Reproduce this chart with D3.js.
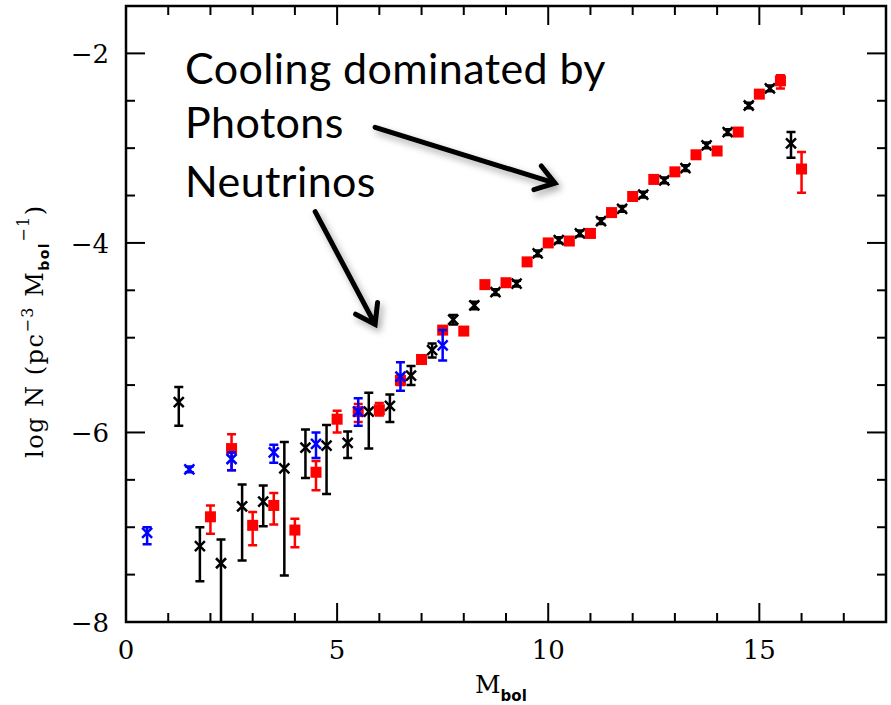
<!DOCTYPE html>
<html>
<head>
<meta charset="utf-8">
<script src="https://cdn.jsdelivr.net/npm/d3@7"></script>
<style>
  body { margin: 0; background: #fff; }
  svg { display: block; }
</style>
</head>
<body>
<script>
"use strict";

// black crosses
const blackM = [1.25, 1.75, 2.25, 2.75, 3.25, 3.75, 4.25, 4.75, 5.25, 5.75, 6.25, 6.75, 7.25, 7.75, 8.25, 8.75, 9.25, 9.75, 10.25, 10.75, 11.25, 11.75, 12.25, 12.75, 13.25, 13.75, 14.25, 14.75, 15.25, 15.75]
const blackLogN = [-5.68, -7.20, -7.38, -6.78, -6.73, -6.38, -6.16, -6.14, -6.11, -5.78, -5.72, -5.40, -5.13, -4.81, -4.66, -4.52, -4.43, -4.11, -3.97, -3.90, -3.77, -3.64, -3.49, -3.34, -3.21, -2.97, -2.83, -2.55, -2.37, -2.95]
const blackErrUp = [0.16, 0.20, 0.25, 0.23, 0.17, 0.28, 0.19, 0.22, 0.12, 0.20, 0.12, 0.10, 0.07, 0.05, 0.04, 0.03, 0.03, 0.03, 0.03, 0.03, 0.03, 0.03, 0.03, 0.03, 0.03, 0.03, 0.03, 0.03, 0.03, 0.12]
const blackErrDown = [0.25, 0.37, 0.80, 0.57, 0.26, 1.13, 0.32, 0.51, 0.16, 0.39, 0.17, 0.10, 0.08, 0.05, 0.04, 0.03, 0.03, 0.03, 0.03, 0.03, 0.03, 0.03, 0.03, 0.03, 0.03, 0.03, 0.03, 0.03, 0.03, 0.15]

// red squares
const redM = [2.0, 2.5, 3.0, 3.5, 4.0, 4.5, 5.0, 5.5, 6.0, 6.5, 7.0, 7.5, 8.0, 8.5, 9.0, 9.5, 10.0, 10.5, 11.0, 11.5, 12.0, 12.5, 13.0, 13.5, 14.0, 14.5, 15.0, 15.5, 16.0]
const redLogN = [-6.89, -6.17, -6.98, -6.77, -7.03, -6.42, -5.86, -5.78, -5.76, -5.45, -5.23, -4.92, -4.93, -4.44, -4.42, -4.20, -4.00, -3.98, -3.90, -3.68, -3.51, -3.33, -3.25, -3.07, -3.03, -2.83, -2.43, -2.29, -3.22]
const redErrUp = [0.12, 0.15, 0.14, 0.13, 0.12, 0.12, 0.09, 0.08, 0.07, 0.05, 0.03, 0.03, 0.03, 0.03, 0.03, 0.03, 0.03, 0.03, 0.03, 0.03, 0.03, 0.03, 0.03, 0.03, 0.03, 0.03, 0.03, 0.06, 0.18]
const redErrDown = [0.18, 0.23, 0.21, 0.20, 0.18, 0.19, 0.14, 0.11, 0.06, 0.05, 0.03, 0.03, 0.03, 0.03, 0.03, 0.03, 0.03, 0.03, 0.03, 0.03, 0.03, 0.03, 0.03, 0.03, 0.03, 0.03, 0.03, 0.08, 0.25]

// blue crosses
const blueM = [0.5, 1.5, 2.5, 3.5, 4.5, 5.5, 6.5, 7.5]
const blueLogN = [-7.06, -6.39, -6.28, -6.21, -6.12, -5.78, -5.41, -5.08]
const blueErrUp = [0.06, 0.03, 0.07, 0.08, 0.12, 0.14, 0.15, 0.16]
const blueErrDown = [0.12, 0.03, 0.12, 0.11, 0.15, 0.15, 0.15, 0.16]

// axis ticks
const xMajorTicks = [0, 5, 10, 15]
const yMajorTicks = [-8, -6, -4, -2]

// annotation
const noteLines = ["Cooling dominated by", "Photons", "Neutrinos"]
const arrows = [
    { from: [5.90, -2.78], to: [10.16, -3.37] },
    { from: [4.48, -3.67], to: [5.90, -4.86] }
]

;(function(){
    const measurements = {
        width: 891,
        height: 705,
        left: 126,
        right: 886,
        top: 6,
        bottom: 622
    }
    const serif = "'DejaVu Serif', serif"

    let svgContainer = d3.select("body").append("svg")
        .attr("width", measurements.width)
        .attr("height", measurements.height)

    let scaleX = d3.scaleLinear()
        .domain([0, 18])
        .range([measurements.left, measurements.right])
    let scaleY = d3.scaleLinear()
        .domain([-8, -1.5])
        .range([measurements.bottom, measurements.top])

    let defs = svgContainer.append("defs")
    defs.append("clipPath").attr("id", "plot-clip")
        .append("rect")
        .attr("x", measurements.left)
        .attr("y", measurements.top)
        .attr("width", measurements.right - measurements.left)
        .attr("height", measurements.bottom - measurements.top)
    let shadow = defs.append("filter").attr("id", "shadow")
        .attr("x", "-20%").attr("y", "-20%").attr("width", "150%").attr("height", "150%")
    shadow.append("feDropShadow")
        .attr("dx", 3).attr("dy", 4)
        .attr("stdDeviation", 3.5)
        .attr("flood-color", "#000")
        .attr("flood-opacity", 0.35)

    drawFrame()
    drawSeries(blackM, blackLogN, blackErrUp, blackErrDown, "#000", "cross")
    drawSeries(redM, redLogN, redErrUp, redErrDown, "#ff0000", "square")
    drawSeries(blueM, blueLogN, blueErrUp, blueErrDown, "#0000ff", "cross")
    drawLabels()
    drawNote()

    function drawFrame() {
        let g = svgContainer.append("g")
        let minorX = d3.range(0, 19, 1)
        let minorY = d3.range(-8, -1.5, 0.5)

        // ticks on all four sides, longer at the labelled values
        g.selectAll(".xtick")
            .data(minorX)
            .enter()
            .append("line")
            .attr("x1", d => scaleX(d)).attr("x2", d => scaleX(d))
            .attr("y1", measurements.bottom)
            .attr("y2", d => measurements.bottom - (d % 5 === 0 ? 19 : 9))
            .attr("stroke", "#000").attr("stroke-width", 2)
        g.selectAll(".xtick-top")
            .data(minorX)
            .enter()
            .append("line")
            .attr("x1", d => scaleX(d)).attr("x2", d => scaleX(d))
            .attr("y1", measurements.top)
            .attr("y2", d => measurements.top + (d % 5 === 0 ? 19 : 9))
            .attr("stroke", "#000").attr("stroke-width", 2)
        g.selectAll(".ytick")
            .data(minorY)
            .enter()
            .append("line")
            .attr("y1", d => scaleY(d)).attr("y2", d => scaleY(d))
            .attr("x1", measurements.left)
            .attr("x2", d => measurements.left + (d % 2 === 0 ? 19 : 9))
            .attr("stroke", "#000").attr("stroke-width", 2)
        g.selectAll(".ytick-right")
            .data(minorY)
            .enter()
            .append("line")
            .attr("y1", d => scaleY(d)).attr("y2", d => scaleY(d))
            .attr("x1", measurements.right)
            .attr("x2", d => measurements.right - (d % 2 === 0 ? 19 : 9))
            .attr("stroke", "#000").attr("stroke-width", 2)

        g.append("rect")
            .attr("x", measurements.left)
            .attr("y", measurements.top)
            .attr("width", measurements.right - measurements.left)
            .attr("height", measurements.bottom - measurements.top)
            .attr("fill", "none")
            .attr("stroke", "#000")
            .attr("stroke-width", 2.5)

        // tick labels
        g.selectAll(".xlabel")
            .data(xMajorTicks)
            .enter()
            .append("text")
            .attr("x", d => scaleX(d))
            .attr("y", 659)
            .attr("text-anchor", "middle")
            .style("font-family", serif)
            .style("font-size", "26px")
            .text(d => d)
        g.selectAll(".ylabel")
            .data(yMajorTicks)
            .enter()
            .append("text")
            .attr("x", 109)
            .attr("y", d => scaleY(d) + 10)
            .attr("text-anchor", "end")
            .style("font-family", serif)
            .style("font-size", "26px")
            .text(d => "\u2212" + Math.abs(d))
    }

    function drawSeries(xs, ys, up, down, color, shape) {
        let rows = xs.map((x, i) => ({ x: x, y: ys[i], hi: ys[i] + up[i], lo: ys[i] - down[i] }))
        let g = svgContainer.append("g").attr("clip-path", "url(#plot-clip)")
        const cap = 4.5
        const arm = 5

        g.selectAll(".bar")
            .data(rows)
            .enter()
            .append("path")
            .attr("d", d => {
                let cx = scaleX(d.x), t = scaleY(d.hi), b = scaleY(d.lo)
                return "M" + cx + "," + t + "V" + b +
                    "M" + (cx - cap) + "," + t + "H" + (cx + cap) +
                    "M" + (cx - cap) + "," + b + "H" + (cx + cap)
            })
            .attr("fill", "none")
            .attr("stroke", color)
            .attr("stroke-width", 2.5)

        if (shape === "square") {
            g.selectAll(".pt")
                .data(rows)
                .enter()
                .append("rect")
                .attr("x", d => scaleX(d.x) - 5.5)
                .attr("y", d => scaleY(d.y) - 5.5)
                .attr("width", 11)
                .attr("height", 11)
                .attr("fill", color)
        } else {
            g.selectAll(".pt")
                .data(rows)
                .enter()
                .append("path")
                .attr("d", d => {
                    let cx = scaleX(d.x), cy = scaleY(d.y)
                    return "M" + (cx - arm) + "," + (cy - arm) + "L" + (cx + arm) + "," + (cy + arm) +
                        "M" + (cx - arm) + "," + (cy + arm) + "L" + (cx + arm) + "," + (cy - arm)
                })
                .attr("fill", "none")
                .attr("stroke", color)
                .attr("stroke-width", 2.5)
        }
    }

    function drawLabels() {
        // x axis title
        let xt = svgContainer.append("text")
            .attr("x", 475)
            .attr("y", 693)
            .style("font-family", serif)
            .style("font-size", "25px")
        xt.append("tspan").text("M")
        xt.append("tspan")
            .attr("dy", 8)
            .style("font-family", "'DejaVu Sans', sans-serif")
            .style("font-weight", "bold")
            .style("font-size", "15px")
            .text("bol")

        // y axis title
        let yt = svgContainer.append("text")
            .attr("transform", "translate(43, 458) rotate(-90)")
            .style("font-family", serif)
            .style("font-size", "24px")
            .style("letter-spacing", "1.5px")
        yt.append("tspan").text("log N (pc")
        yt.append("tspan").attr("dy", -10).style("font-size", "16px").text("\u22123")
        yt.append("tspan").attr("dy", 10).text(" M")
        yt.append("tspan").attr("dy", 6)
            .style("font-family", "'DejaVu Sans', sans-serif")
            .style("font-weight", "bold")
            .style("font-size", "14px")
            .text("bol")
        yt.append("tspan").attr("dy", -20).style("font-size", "16px").text("\u22121")
        yt.append("tspan").attr("dy", 14).text(")")
    }

    function drawNote() {
        svgContainer.selectAll(".note")
            .data(noteLines)
            .enter()
            .append("text")
            .attr("x", 185)
            .attr("y", (d, i) => [84, 138, 197][i])
            .style("font-family", "Lato, 'Open Sans', sans-serif")
            .style("font-size", "43px")
            .style("letter-spacing", "0.4px")
            .style("fill", "#000")
            .text(d => d)

        let g = svgContainer.append("g").attr("filter", "url(#shadow)")
        arrows.forEach(a => {
            let x1 = scaleX(a.from[0]), y1 = scaleY(a.from[1])
            let x2 = scaleX(a.to[0]), y2 = scaleY(a.to[1])
            let ang = Math.atan2(y2 - y1, x2 - x1)
            const head = 22, spread = 0.6
            let p = d3.path()
            p.moveTo(x1, y1)
            p.lineTo(x2, y2)
            p.moveTo(x2 - head * Math.cos(ang - spread), y2 - head * Math.sin(ang - spread))
            p.lineTo(x2, y2)
            p.lineTo(x2 - head * Math.cos(ang + spread), y2 - head * Math.sin(ang + spread))
            g.append("path")
                .attr("d", p.toString())
                .attr("fill", "none")
                .attr("stroke", "#000")
                .attr("stroke-width", 5)
                .attr("stroke-linecap", "round")
                .attr("stroke-linejoin", "miter")
        })
    }
})()
</script>
</body>
</html>
